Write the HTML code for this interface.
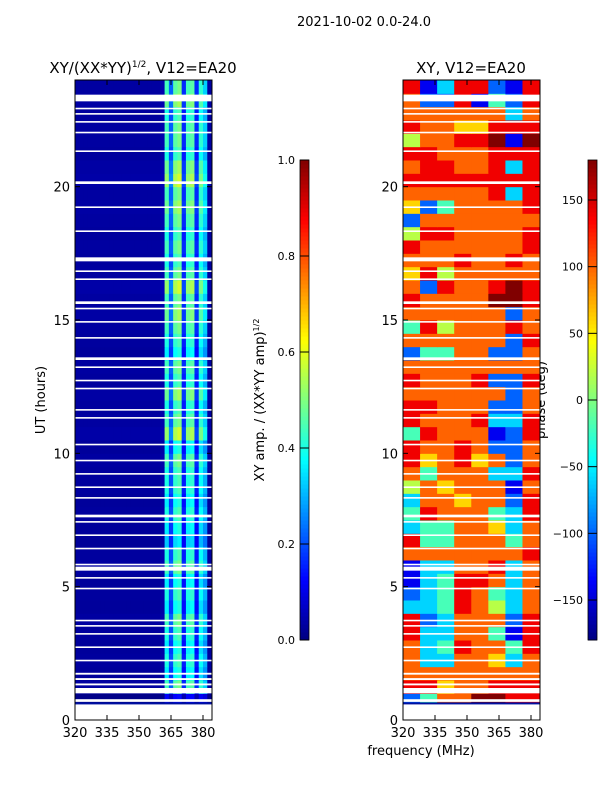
<!DOCTYPE html>
<html><head><meta charset="utf-8">
<style>
body{margin:0;background:#fff;font-family:"Liberation Sans","DejaVu Sans",sans-serif;}
svg text{font-family:"DejaVu Sans","Liberation Sans",sans-serif;fill:#000;}
</style></head>
<body>
<svg id="fig" width="600" height="800" xmlns="http://www.w3.org/2000/svg">
<text x="364" y="26" font-size="13" text-anchor="middle">2021-10-02 0.0-24.0</text>
<text x="143" y="73" font-size="15" text-anchor="middle">XY/(XX*YY)<tspan dy="-6" font-size="9">1/2</tspan><tspan dy="6">, V12=EA20</tspan></text>
<text x="471" y="73" font-size="15" text-anchor="middle">XY, V12=EA20</text>
<text x="45" y="400" font-size="13" text-anchor="middle" transform="rotate(-90 45 400)">UT (hours)</text>
<text x="421" y="755" font-size="13" text-anchor="middle">frequency (MHz)</text>
<text x="264" y="400" font-size="13" text-anchor="middle" transform="rotate(-90 264 400)">XY amp. / (XX*YY amp)<tspan dy="-5" font-size="8">1/2</tspan></text>
<text x="545" y="400" font-size="13" text-anchor="middle" transform="rotate(-90 545 400)">phase (deg)</text>
<g id="g"></g>
</svg>
<script>
// ---- data ----
const ampFreqBins=[320,322,324,326,328,330,332,334,336,338,340,342,344,346,348,350,352,354,356,358,360,362,364,366,368,370,372,374,376,378,380,382];
const ampFreqProfile=[0.03,0.03,0.03,0.03,0.03,0.03,0.03,0.03,0.03,0.03,0.03,0.03,0.03,0.03,0.03,0.03,0.03,0.03,0.03,0.03,0.04,0.4,0.2,0.42,0.45,0.15,0.4,0.42,0.15,0.38,0.3,0.03];
const rowHours=[];for(let i=0;i<48;i++)rowHours.push(i*0.5);
const ampRowScale=[0,0.3,1.1,0.9,1.0,0.9,1.0,1.1,0.9,1.0,0.9,1.1,1.0,0.8,0.9,1.0,0.9,1.0,1.0,1.1,0.9,1.3,1.1,1.0,1.2,1.0,1.1,0.9,1.0,1.1,1.2,1.1,1.3,1.1,1.0,1.1,1.0,1.1,1.2,1.1,1.3,1.2,1.0,1.1,1.1,1.0,1.2,1.1];
const phaseFreqBins=[320,328,336,344,352,360,368,376];
const phaseRows=["00000000","24779988","88677888","77777777","73377637","73487748","83377418","82377728","33487537","23487437","13488737","13377837","77777778","84477747","34477637","48777438","37767728","57677717","74777338","86786727","87787227","48777128","87778338","88777227","77777727","87778228","77777777","24477227","77777728","48577787","77777727","87777998","72877898","68577777","77787787","87777778","58877778","27777777","62477778","77777838","88888888","78877838","88777888","57788919","87766888","77777737","72281428","81388218"];
const gapHours=[[0,0.6],[0.68,0.1],[1.0,0.2],[1.3,0.07],[1.5,0.07],[1.7,0.07],[2.2,0.06],[2.7,0.06],[3.2,0.06],[3.5,0.06],[3.7,0.06],[4.9,0.06],[5.3,0.06],[5.6,0.15],[5.8,0.06],[6.4,0.06],[6.9,0.06],[7.4,0.06],[7.6,0.1],[8.3,0.06],[8.7,0.06],[9.2,0.06],[9.7,0.06],[10.3,0.06],[11.3,0.06],[11.6,0.06],[12.4,0.06],[12.7,0.06],[13.2,0.06],[13.5,0.1],[14.3,0.06],[14.9,0.06],[15.4,0.06],[15.6,0.1],[16.5,0.06],[16.8,0.06],[17.2,0.15],[18.3,0.06],[19.2,0.06],[20.1,0.1],[21.3,0.06],[22.0,0.06],[22.4,0.06],[22.7,0.06],[22.9,0.06],[23.2,0.25]];
const xTicks=[320,335,350,365,380];
const yTicks=[0,5,10,15,20];
const ampTicks=[0,0.2,0.4,0.6,0.8,1.0];
const phaseTicks=[-150,-100,-50,0,50,100,150];
// ---- drawing ----
const NS="http://www.w3.org/2000/svg",G=document.getElementById('g');
function jet(v){v=Math.max(0,Math.min(1,v));const f=t=>Math.round(255*Math.max(0,Math.min(1,1.5-Math.abs(4*v-t))));return `rgb(${f(3)},${f(2)},${f(1)})`;}
function el(tag,a,p){const e=document.createElementNS(NS,tag);for(const k in a)e.setAttribute(k,a[k]);(p||G).appendChild(e);return e;}
const yS=h=>720-h*(640/24);
function xS(x0){return f=>x0+(f-320)*(128/60);}
function panel(x0,name,cell){
  const xs=xS(x0);
  const grp=el('g',{});
  
  
  cell(xs,grp);
  gapHours.forEach(g=>{const r=el('rect',{x:x0,y:yS(g[0]+g[1]),width:137,height:g[1]*640/24,fill:'#fff'},grp);
    });
  const ln=el('rect',{x:x0,y:yS(0.66),width:137,height:2,fill:'#0010a0'},grp);
  
  const fr=el('rect',{x:x0,y:80,width:137,height:640,fill:'none',stroke:'#000','stroke-width':1});
  
  xTicks.forEach(t=>{el('line',{x1:xs(t),x2:xs(t),y1:720,y2:715,stroke:'#000'});el('line',{x1:xs(t),x2:xs(t),y1:80,y2:85,stroke:'#000'});
    const tx=el('text',{x:xs(t),y:737,'font-size':13,'text-anchor':'middle'});tx.textContent=t;
    });
  yTicks.forEach(t=>{el('line',{x1:x0,x2:x0+5,y1:yS(t),y2:yS(t),stroke:'#000'});el('line',{x1:x0+137,x2:x0+132,y1:yS(t),y2:yS(t),stroke:'#000'});
    const tx=el('text',{x:x0-5,y:yS(t)+5,'font-size':13,'text-anchor':'end'});tx.textContent=t;
    });
}
panel(75,'amplitude',(xs,grp)=>{
  rowHours.forEach((h,i)=>ampFreqBins.forEach((f,j)=>{
    const v=ampFreqProfile[j]*ampRowScale[i];
    const r=el('rect',{x:xs(f),y:yS(h+0.5),width:2*128/60+0.5,height:640/48+0.5,fill:jet(v)},grp);
    
  }));
});
panel(403,'phase',(xs,grp)=>{
  rowHours.forEach((h,i)=>phaseFreqBins.forEach((f,j)=>{
    const c=phaseRows[i][j];if(c==='0'&&i===0){const r0=el('rect',{x:xs(f),y:yS(h+0.5),width:17.6,height:14,fill:'#fff'},grp);return;}
    const v=(+c)/9;
    const r=el('rect',{x:xs(f),y:yS(h+0.5),width:8*128/60+0.5,height:640/48+0.5,fill:jet(v)},grp);
    
  }));
});
function cbar(x,name,ticks,lo,hi,fmt){
  const grp=el('g',{});
  for(let i=0;i<120;i++){el('rect',{x:x,y:640-(i+1)*4,width:9,height:4.5,fill:jet((i+0.5)/120)},grp);}
  el('rect',{x:x,y:160,width:9,height:480,fill:'none',stroke:'#000','stroke-width':0.8},grp);
  ticks.forEach(t=>{const y=640-(t-lo)/(hi-lo)*480;el('line',{x1:x,x2:x+9,y1:y,y2:y,stroke:'#000'},grp);
    const tx=el('text',{x:x-5,y:y+4,'font-size':11,'text-anchor':'end'},grp);tx.textContent=fmt(t);
    });
}
cbar(300,'amp-colorbar',ampTicks,0,1,t=>t.toFixed(1));
cbar(588,'phase-colorbar',phaseTicks,-180,180,t=>t<0?'\u2212'+(-t):''+t);
</script>
</body></html>
